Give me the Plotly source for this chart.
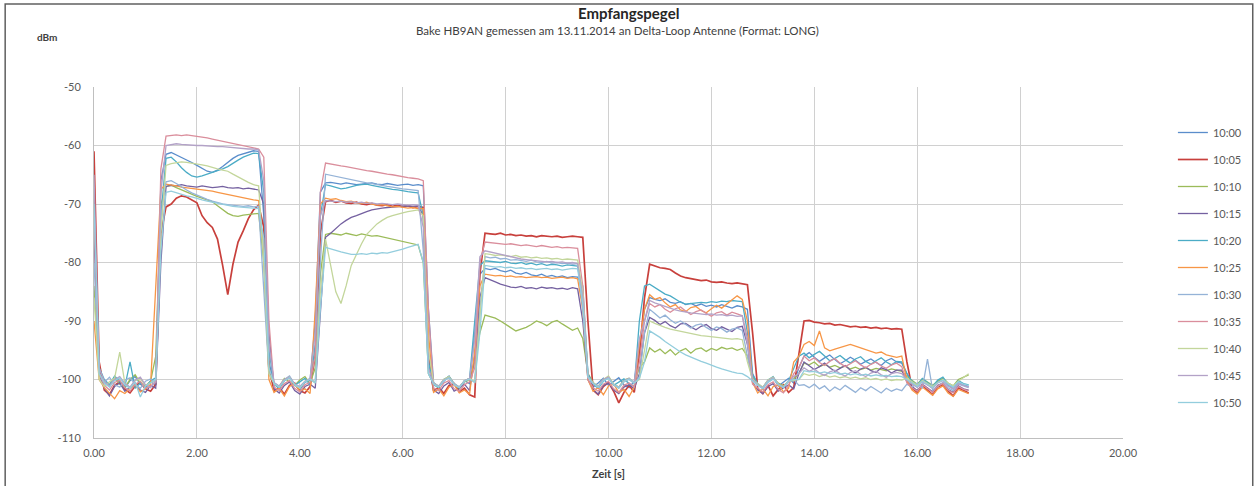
import plotly.graph_objects as go

# ---------------- data (0.1 s sampling, 0.0 .. 17.0 s) ----------------
T_STEP = 0.1
N_SAMPLES = 171
TIME_S = [round(i * T_STEP, 1) for i in range(N_SAMPLES)]

SERIES_NAMES = ["10:00", "10:05", "10:10", "10:15", "10:20", "10:25",
                "10:30", "10:35", "10:40", "10:45", "10:50"]

S_1000 = [-68, -98, -100.5, -101.2, -99.8, -100.6, -101.5, -100.2, -99.5, -100.8, -101.3, -100.4, -100.9,
          -66, -61.5, -61.2, -61.6, -62.0, -62.4, -62.9, -63.4, -63.9, -64.4, -64.6, -64.2, -63.6, -62.9, -62.2, -61.7, -61.4, -61.1, -60.9, -61.0, -72,
          -97, -100.8, -101.5, -100.2, -99.6, -100.9, -101.8, -100.5, -100.1, -90,
          -68, -66.4, -66.3, -66.5, -66.6, -66.4, -66.5, -66.7, -66.6, -66.5, -66.4, -66.6, -66.7, -66.5, -66.6, -66.8, -66.7, -66.6, -66.8, -66.7, -66.9,
          -88, -100.5, -101.2, -100.3, -99.4, -100.8, -101.6, -100.2, -100.7, -92,
          -82, -81.0, -81.2, -81.0, -81.4, -81.6, -81.3, -81.8, -82.0, -81.7, -82.1, -82.3, -82.0, -82.4, -82.2, -82.5, -82.3, -82.6, -82.4, -82.5, -84,
          -99, -101.3, -100.6, -99.8, -101.0, -100.4, -99.7, -100.9, -101.4, -100.3, -95,
          -88, -86.0, -86.3, -86.5, -86.2, -86.8, -87.0, -86.7, -87.2, -87.0, -87.4, -87.1, -87.5, -87.3, -87.6, -87.2, -87.5, -87.8, -87.4, -87.6, -88,
          -99, -100.8, -101.5, -100.2, -99.6, -101.1, -100.4, -99.8, -100.6,
          -98, -96.0, -95.4, -96.2, -96.9, -96.3, -95.8, -96.6, -97.3, -96.8, -96.2, -96.7, -97.4, -96.9, -96.5, -97.1, -97.6, -96.8, -96.4, -97.0, -97.2,
          -99, -100.6, -101.3, -100.1, -100.8, -101.5, -100.4, -99.9, -101.0, -101.6, -100.5, -100.9, -101.2]

S_1005 = [-61, -97, -101.8, -102.6, -101.0, -100.4, -101.7, -102.3, -101.1, -100.5, -101.6, -102.0, -100.8,
          -75, -70.5, -70.0, -69.0, -68.6, -68.8, -69.3, -69.8, -72.0, -73.2, -74.0, -76.0, -80.5, -85.5, -80.3, -76.5, -74.6, -72.5, -71.0, -70.2, -74,
          -98, -102.0, -101.4, -102.5, -101.0, -100.6, -101.9, -102.3, -101.2, -96,
          -75, -69.6, -69.4, -69.7, -69.5, -69.8, -69.9, -69.7, -70.0, -70.1, -69.9, -70.2, -70.3, -70.1, -70.4, -70.2, -70.5, -70.3, -70.6, -70.4, -70.6,
          -96, -102.0, -101.3, -102.4, -101.0, -100.7, -102.1, -101.5, -102.6, -103.0,
          -82, -75.0, -75.1, -75.2, -75.0, -75.3, -75.2, -75.4, -75.3, -75.5, -75.4, -75.6, -75.4, -75.5, -75.6, -75.5, -75.7, -75.6, -75.5, -75.6, -75.7,
          -90, -101.8, -102.6, -101.2, -100.5, -102.0, -104.0, -102.2, -101.0, -102.2, -96,
          -86, -80.3, -80.6, -80.9, -81.0, -81.2, -81.8, -82.3, -82.6, -82.8, -83.0, -83.1, -83.0, -83.3, -83.4, -83.3, -83.5, -83.6, -83.5, -83.7, -83.8,
          -92, -101.5, -102.4, -101.0, -102.8, -101.7, -100.9, -102.2, -101.4,
          -96, -90.0, -89.9, -90.2, -90.3, -90.5, -90.4, -90.7, -90.6, -90.8, -91.0, -90.9, -91.1, -91.0, -91.2, -91.1, -91.3, -91.2, -91.4, -91.3, -91.4,
          -97, -101.5, -102.2, -101.0, -101.8, -102.6, -101.3, -100.9, -102.0, -102.8, -101.4, -101.9, -102.3]

S_1010 = [-84, -99, -100.2, -101.0, -99.6, -100.8, -101.4, -100.0, -99.2, -100.6, -101.1, -100.3, -96,
          -70, -67.0, -66.8, -67.2, -67.6, -68.0, -68.4, -68.7, -69.0, -69.3, -69.6, -70.3, -71.0, -71.6, -72.0, -72.1, -71.9, -71.8, -71.7, -71.6, -80,
          -99, -100.6, -101.2, -99.8, -100.4, -101.0, -100.1, -99.5, -100.7, -98,
          -82, -75.2, -75.0, -75.1, -75.3, -75.0, -75.2, -75.4, -75.1, -75.3, -75.5, -75.4, -75.6, -75.8, -76.0, -76.3, -76.5, -76.7, -76.9, -77.0, -80,
          -99, -100.8, -101.3, -100.0, -99.5, -100.9, -101.6, -100.4, -100.0, -97,
          -92, -89.0, -89.2, -89.5, -90.0, -90.6, -91.2, -91.7, -91.4, -91.1, -90.6, -90.0, -90.3, -90.8, -90.2, -89.9, -90.5, -91.0, -91.6, -91.2, -93,
          -99, -100.5, -101.2, -100.0, -99.6, -100.8, -101.3, -100.1, -99.8, -100.6, -98,
          -97, -94.6, -95.3, -94.8, -95.6, -94.9, -95.8, -95.1, -94.7, -95.5, -94.8, -94.6, -95.2, -94.7, -95.0, -94.5, -94.8, -94.6, -95.0, -94.7, -96,
          -99.5, -100.9, -101.4, -100.2, -99.8, -100.6, -101.1, -100.3, -99.9,
          -99, -97.2, -97.5, -97.0, -97.8, -97.4, -97.9, -97.6, -98.0, -97.7, -98.2, -97.9, -98.3, -98.0, -98.4, -98.1, -98.3, -98.5, -98.2, -98.4, -98.6,
          -99.5, -100.2, -100.8, -99.9, -100.5, -101.0, -100.3, -99.8, -100.6, -101.1, -100.0, -99.6, -99.2]

S_1015 = [-75, -99, -101.5, -102.8, -101.2, -100.6, -102.0, -101.3, -100.9, -101.8, -102.2, -101.0, -101.5,
          -80, -67.0, -66.8, -66.9, -66.7, -66.9, -67.0, -67.1, -66.9, -67.0, -67.2, -67.1, -67.0, -67.2, -67.3, -67.2, -67.4, -67.3, -67.5, -67.6, -70,
          -92, -101.6, -102.3, -101.0, -100.4, -101.9, -102.5, -101.2, -100.8, -101.5,
          -88, -75.7, -75.0, -74.2, -73.4, -72.8, -72.3, -72.0, -71.6, -71.3, -71.0, -70.8, -70.7, -70.6, -70.5, -70.5, -70.4, -70.3, -70.4, -70.3, -72,
          -97, -101.8, -102.4, -101.1, -100.5, -102.0, -101.5, -100.8, -101.9, -96,
          -86, -82.6, -82.9, -83.3, -83.7, -84.0, -84.2, -84.3, -84.1, -84.4, -84.3, -84.5, -84.2, -84.4, -84.3, -84.5, -84.4, -84.6, -84.3, -84.5, -90,
          -100, -101.7, -102.5, -101.0, -100.6, -101.8, -102.4, -101.3, -100.9, -101.6, -99,
          -92, -89.4, -89.9, -90.6, -90.1, -90.8, -91.2, -90.5, -90.4, -91.0, -91.5, -90.9, -90.6, -91.3, -91.6, -91.0, -91.4, -91.8, -91.1, -90.9, -94,
          -100.5, -101.8, -102.4, -101.2, -100.7, -102.0, -101.5, -100.9, -101.6,
          -99, -97.0, -97.6, -98.3, -97.8, -97.2, -98.0, -98.6, -98.1, -97.6, -98.4, -98.9, -98.2, -97.9, -98.5, -98.8, -98.0, -98.3, -98.9, -98.4, -98.4,
          -100.4, -101.2, -101.9, -100.8, -101.5, -102.1, -101.0, -100.6, -101.7, -102.2, -101.1, -101.6, -101.8]

S_1020 = [-70, -98, -100.0, -100.9, -99.4, -100.3, -101.2, -97.0, -101.5, -100.6, -101.4, -100.2, -99.7,
          -72, -62.2, -62.0, -62.8, -63.8, -64.6, -65.2, -65.4, -65.2, -64.9, -64.6, -64.4, -64.0, -63.6, -63.0, -62.5, -62.0, -61.6, -61.3, -61.4, -68,
          -95, -100.8, -101.5, -100.2, -99.6, -101.0, -100.4, -99.8, -100.9, -94,
          -72, -66.7, -66.9, -67.2, -67.4, -67.3, -67.0, -66.8, -66.7, -66.6, -66.8, -67.0, -67.2, -67.4, -67.5, -67.6, -67.8, -67.9, -68.0, -68.1, -72,
          -97, -100.9, -101.4, -100.0, -99.5, -100.7, -101.3, -100.2, -99.8, -90,
          -80.5, -79.7, -79.8, -79.9, -80.0, -79.8, -80.1, -80.2, -80.0, -80.3, -80.1, -80.4, -80.2, -80.5, -80.3, -80.4, -80.6, -80.4, -80.5, -80.6, -86,
          -99, -100.8, -101.5, -100.3, -99.7, -101.0, -100.5, -99.9, -100.7, -101.2, -90,
          -84, -83.7, -84.3, -84.9, -85.4, -85.7, -86.3, -86.8, -87.1, -87.0, -86.9, -86.8, -86.9, -86.7, -86.8, -86.6, -86.7, -86.5, -86.6, -86.7, -92,
          -99.2, -100.7, -101.4, -100.1, -99.5, -100.9, -101.3, -100.2, -98,
          -96, -95.5, -96.3, -95.7, -95.2, -96.0, -96.8, -96.4, -95.9, -96.6, -97.2, -96.5, -96.1, -96.9, -97.4, -96.8, -96.3, -97.0, -97.5, -96.9, -97.0,
          -99.0, -100.3, -101.0, -99.8, -100.5, -101.2, -100.1, -99.6, -100.8, -101.3, -100.2, -100.7, -100.9]

S_1025 = [-90, -100, -101.4, -102.3, -103.3, -101.9, -102.4, -101.5, -100.9, -102.1, -101.6, -100.8, -85,
          -67.5, -66.6, -66.7, -66.9, -67.1, -67.2, -67.4, -67.5, -67.6, -67.7, -67.8, -68.0, -68.2, -68.4, -68.6, -68.8, -68.9, -69.1, -69.3, -69.4, -78,
          -100, -102.2, -101.5, -102.8, -101.2, -100.7, -102.0, -101.6, -102.4, -88,
          -70, -69.0, -69.2, -69.1, -69.4, -69.6, -69.5, -69.8, -69.9, -69.7, -70.0, -70.2, -70.1, -70.3, -70.5, -70.4, -70.6, -70.7, -70.6, -70.8, -70.8,
          -92, -102.2, -101.6, -102.8, -101.3, -100.9, -102.3, -101.8, -102.5, -95,
          -84, -82.0, -82.1, -82.3, -82.2, -82.4, -82.3, -82.5, -82.4, -82.6, -82.5, -82.4, -82.6, -82.5, -82.7, -82.6, -82.5, -82.7, -82.6, -82.8, -88,
          -100, -102.0, -101.4, -102.6, -101.1, -100.8, -102.2, -101.7, -102.9, -101.3, -94,
          -88, -85.5, -86.3, -86.0, -86.9, -87.6, -87.2, -88.1, -88.4, -87.7, -87.5, -88.2, -88.6, -87.9, -87.3, -87.8, -87.1, -86.5, -85.7, -86.3, -90,
          -100.5, -102.3, -101.6, -102.8, -101.2, -100.9, -102.1, -101.5, -97,
          -96, -94.0, -93.5, -94.2, -91.7, -94.6, -95.1, -94.8, -94.5, -94.2, -94.0, -94.3, -94.6, -94.8, -95.2, -95.5, -95.3, -95.8, -96.0, -96.2, -96.0,
          -100.2, -101.8, -102.5, -101.3, -102.0, -102.7, -101.6, -101.1, -102.3, -102.9, -101.7, -102.1, -102.4]

S_1030 = [-80, -99, -100.5, -99.6, -100.9, -101.3, -100.1, -99.7, -100.8, -101.5, -100.3, -99.9, -100.6,
          -72, -66.2, -66.0, -66.5, -67.1, -67.6, -68.1, -68.5, -68.9, -69.2, -69.5, -69.8, -70.0, -70.1, -70.2, -70.3, -70.4, -70.3, -70.5, -70.4, -85,
          -99, -100.6, -101.2, -100.0, -99.4, -100.8, -101.3, -100.4, -99.8, -100.5,
          -80, -64.9, -65.1, -65.3, -65.5, -65.7, -65.9, -66.0, -66.2, -66.4, -66.5, -66.7, -66.8, -67.0, -67.1, -67.3, -67.4, -67.5, -67.6, -67.7, -78,
          -99, -100.7, -101.1, -100.0, -99.6, -100.9, -101.4, -100.3, -99.8, -100.5,
          -88, -79.0, -79.2, -79.1, -79.4, -79.3, -79.6, -79.5, -79.7, -79.8, -79.6, -79.9, -80.0, -79.8, -80.1, -80.0, -80.2, -80.1, -80.3, -80.2, -88,
          -99.5, -100.6, -101.3, -100.1, -99.7, -100.9, -101.5, -100.4, -100.0, -100.7, -99.5,
          -92, -88.0, -88.7, -89.5, -89.0, -89.8, -90.4, -90.0, -90.6, -91.2, -90.7, -90.5, -91.1, -91.6, -91.0, -91.3, -91.9, -91.4, -91.2, -91.6, -96,
          -100.3, -101.0, -101.6, -100.5, -99.9, -100.8, -101.4, -100.2, -100.0,
          -101, -100.9, -101.4, -100.8, -101.6, -101.1, -102.0, -101.3, -101.8, -101.0, -101.6, -102.2, -101.4, -101.9, -101.2, -101.7, -102.3, -101.5, -102.0, -101.6, -101.9,
          -100.8, -101.3, -100.6, -101.5, -96.5, -101.8, -101.2, -100.5, -101.4, -101.9, -100.8, -101.1, -101.4]

S_1035 = [-72, -99, -101.0, -101.8, -100.5, -100.1, -101.4, -102.0, -100.8, -100.3, -101.5, -101.1, -100.4,
          -64, -58.4, -58.3, -58.2, -58.3, -58.2, -58.3, -58.4, -58.5, -58.7, -58.9, -59.1, -59.3, -59.5, -59.7, -59.9, -60.1, -60.3, -60.5, -60.6, -62,
          -90, -101.3, -101.9, -100.7, -100.2, -101.5, -102.1, -100.9, -100.5, -96,
          -68, -63.0, -63.2, -63.3, -63.5, -63.6, -63.8, -64.0, -64.1, -64.3, -64.4, -64.6, -64.7, -64.9, -65.0, -65.2, -65.3, -65.5, -65.6, -65.7, -66.0,
          -88, -101.4, -101.9, -100.6, -100.2, -101.6, -102.0, -100.9, -100.4, -98,
          -80, -76.5, -76.6, -76.7, -76.8, -76.9, -76.8, -77.0, -77.1, -77.0, -77.2, -77.3, -77.1, -77.3, -77.4, -77.3, -77.5, -77.4, -77.5, -77.6, -84,
          -100, -101.4, -102.0, -100.8, -100.3, -101.6, -102.2, -101.0, -100.6, -101.3, -97,
          -90, -87.0, -87.6, -87.2, -88.0, -88.5, -87.9, -87.6, -88.3, -88.9, -88.4, -88.1, -88.7, -89.2, -88.6, -88.4, -89.0, -88.5, -88.8, -89.1, -93,
          -100.8, -101.5, -102.1, -100.9, -100.4, -101.7, -102.3, -101.0, -99,
          -98, -96.0, -96.8, -96.3, -97.1, -97.6, -96.9, -96.4, -97.2, -97.8, -97.3, -96.8, -97.5, -98.0, -97.4, -97.0, -97.7, -98.1, -97.5, -97.2, -97.8,
          -100.6, -101.4, -102.0, -100.9, -101.6, -102.2, -101.1, -100.7, -101.8, -102.3, -101.2, -101.7, -101.9]

S_1040 = [-86, -100, -101.2, -100.4, -99.8, -95.3, -100.6, -101.4, -100.2, -99.9, -101.0, -100.5, -100.1,
          -75, -63.4, -63.1, -62.9, -62.8, -62.9, -63.0, -63.1, -63.3, -63.5, -63.8, -64.0, -64.2, -64.4, -64.9, -65.4, -65.9, -66.3, -66.7, -66.9, -80,
          -99, -100.7, -101.3, -100.1, -99.6, -100.9, -101.5, -100.3, -99.9, -100.6,
          -85, -76.0, -80.5, -85.0, -87.0, -84.0, -80.5, -78.6, -76.8, -75.2, -74.3, -73.4, -72.8, -72.3, -72.0, -71.7, -71.5, -71.3, -71.1, -71.0, -72,
          -95, -100.6, -101.2, -100.0, -99.5, -100.8, -101.3, -100.2, -99.8, -100.4,
          -90, -78.5, -78.6, -78.8, -78.7, -78.9, -79.0, -78.8, -79.1, -79.0, -79.2, -79.1, -79.3, -79.2, -79.4, -79.3, -79.5, -79.4, -79.5, -79.6, -85,
          -99.5, -100.6, -101.2, -100.0, -99.4, -100.8, -101.4, -100.3, -99.9, -100.5, -100.0,
          -95, -90.0, -90.4, -90.8, -91.1, -91.4, -91.6, -91.8, -92.0, -92.2, -92.3, -92.5, -92.6, -92.7, -92.8, -92.9, -93.0, -93.1, -93.0, -93.2, -97,
          -100.0, -100.7, -101.3, -100.1, -99.6, -100.9, -101.2, -100.3, -100.1,
          -100, -99.0, -99.3, -99.1, -99.5, -99.2, -99.6, -99.4, -99.7, -99.5, -99.8, -99.6, -99.9, -99.7, -100.0, -99.8, -100.1, -99.9, -100.2, -100.0, -100.1,
          -99.8, -100.4, -101.0, -100.2, -100.7, -101.2, -100.5, -100.0, -100.6, -101.1, -100.3, -99.7, -99.0]

S_1045 = [-65, -98, -100.3, -101.1, -100.0, -99.5, -100.7, -101.3, -100.1, -99.6, -100.9, -101.4, -100.2,
          -68, -60.0, -59.8, -59.7, -59.8, -59.9, -59.9, -60.0, -60.0, -60.1, -60.1, -60.2, -60.2, -60.3, -60.4, -60.4, -60.5, -60.6, -60.6, -60.7, -66,
          -94, -100.5, -101.1, -100.0, -99.6, -100.8, -101.2, -100.3, -99.9, -92,
          -72, -69.4, -69.5, -69.6, -69.5, -69.7, -69.6, -69.8, -69.7, -69.9, -69.8, -70.0, -69.9, -70.0, -70.1, -70.0, -70.1, -70.2, -70.1, -70.2, -74,
          -98, -100.7, -101.2, -100.1, -99.7, -100.8, -101.3, -100.2, -99.8, -93,
          -79, -78.0, -78.2, -78.5, -78.7, -78.9, -79.1, -79.2, -79.4, -79.5, -79.6, -79.7, -79.8, -79.9, -79.8, -80.0, -79.9, -80.1, -80.0, -80.2, -86,
          -99.5, -100.7, -101.2, -100.0, -99.6, -100.9, -101.3, -100.2, -99.8, -100.6, -93,
          -90, -86.5, -86.9, -87.2, -87.6, -87.9, -88.1, -88.3, -88.5, -88.6, -88.7, -88.8, -88.9, -88.8, -89.0, -88.9, -89.1, -89.0, -89.2, -89.1, -94,
          -100.0, -100.9, -101.4, -100.2, -99.7, -100.8, -101.3, -100.4, -99.5,
          -99, -98.0, -98.6, -98.2, -98.9, -99.3, -98.7, -98.4, -99.0, -99.4, -98.8, -98.5, -99.1, -99.5, -98.9, -98.6, -99.2, -99.6, -99.0, -98.8, -99.0,
          -100.1, -100.8, -101.3, -100.4, -101.0, -101.5, -100.6, -100.2, -101.1, -101.6, -100.7, -101.0, -101.3]

S_1050 = [-70, -99, -100.6, -101.3, -100.2, -99.7, -100.9, -101.5, -100.4, -103.0, -101.1, -100.5, -100.0,
          -78, -68.0, -67.8, -68.1, -68.3, -68.6, -68.8, -69.1, -69.3, -69.5, -69.7, -69.9, -70.1, -70.3, -70.4, -70.5, -70.6, -70.7, -70.7, -70.8, -76,
          -98, -100.7, -101.3, -100.2, -99.7, -100.9, -101.4, -100.4, -100.0, -100.6,
          -88, -77.4, -77.7, -78.0, -78.2, -78.4, -78.6, -78.6, -78.5, -78.6, -78.4, -78.5, -78.3, -78.4, -78.2, -78.0, -77.7, -77.4, -77.1, -76.9, -80,
          -99, -100.8, -101.3, -100.2, -99.7, -100.9, -101.4, -100.3, -99.9, -100.5,
          -92, -80.5, -80.6, -80.8, -80.7, -80.9, -80.8, -81.0, -80.9, -81.1, -81.0, -81.2, -81.1, -81.0, -81.2, -81.1, -81.3, -81.2, -81.0, -81.1, -87,
          -99.6, -100.7, -101.3, -100.2, -99.8, -100.9, -101.4, -100.3, -99.9, -100.6, -99.8,
          -97, -91.7, -92.2, -92.8, -93.5, -94.1, -94.8, -95.3, -95.8, -96.2, -96.6, -96.9, -97.2, -97.6, -97.9, -98.2, -98.5, -98.7, -98.9, -99.0, -99.5,
          -100.2, -101.0, -101.5, -100.4, -99.9, -100.8, -101.4, -100.3, -100.0,
          -100, -98.5, -98.7, -98.6, -98.9, -98.7, -99.0, -98.8, -99.1, -98.9, -99.2, -99.0, -99.3, -99.1, -99.4, -99.2, -99.4, -99.3, -99.5, -99.4, -99.5,
          -100.0, -100.6, -101.2, -100.3, -100.9, -101.4, -100.5, -100.1, -100.8, -101.3, -100.4, -100.8, -101.0]

SERIES_VALUES = [S_1000, S_1005, S_1010, S_1015, S_1020, S_1025,
                 S_1030, S_1035, S_1040, S_1045, S_1050]

X_TICKS = [0, 2, 4, 6, 8, 10, 12, 14, 16, 18, 20]
X_TICK_TEXT = ["0.00", "2.00", "4.00", "6.00", "8.00", "10.00",
               "12.00", "14.00", "16.00", "18.00", "20.00"]
Y_TICKS = [-110, -100, -90, -80, -70, -60, -50]
Y_TICK_TEXT = ["-110", "-100", "-90", "-80", "-70", "-60", "-50"]

# ---------------- styling ----------------
COLORS = ["#5A8DCB", "#C8403C", "#9BBB59", "#7460A0", "#4BACC6", "#F79646",
          "#95B3D7", "#DA8E9C", "#C3D69B", "#B3A2C7", "#93CDDD"]
WIDTHS = [1.3, 1.7, 1.3, 1.3, 1.3, 1.3, 1.3, 1.3, 1.3, 1.3, 1.3]
FONT = "Lato"

for name, vals in zip(SERIES_NAMES, SERIES_VALUES):
    assert len(vals) == N_SAMPLES, (name, len(vals))

fig = go.Figure()
for name, vals, col, w in zip(SERIES_NAMES, SERIES_VALUES, COLORS, WIDTHS):
    fig.add_trace(go.Scatter(x=TIME_S, y=vals, mode="lines", name=name,
                             legendgroup=name,
                             line=dict(color=col, width=w)))

W, H = 1259, 486
L, R, T, B = 94, 134, 87, 48
pw, ph = W - L - R, H - T - B


def px_x(x):
    return (x - L) / pw


def px_y(y):
    return (H - B - y) / ph


fig.update_layout(
    width=W, height=H, autosize=False,
    margin=dict(l=L, r=R, t=T, b=B, pad=0),
    paper_bgcolor="white", plot_bgcolor="white",
    font=dict(family=FONT, size=11, color="#595959"),
    showlegend=True,
    legend=dict(x=px_x(1175), y=px_y(118), xanchor="left", yanchor="top",
                font=dict(family=FONT, size=11, color="#595959"),
                tracegroupgap=8, bgcolor="rgba(0,0,0,0)", borderwidth=0),
    xaxis=dict(range=[0, 20], tickvals=X_TICKS, ticktext=X_TICK_TEXT,
               showgrid=True, gridcolor="#D0D0D0", gridwidth=1,
               showline=True, linecolor="#BFBFBF", linewidth=1,
               zeroline=False, ticks="", ticklen=0, ticklabelstandoff=5,
               tickfont=dict(family=FONT, size=11, color="#595959")),
    yaxis=dict(range=[-110, -50], tickvals=Y_TICKS, ticktext=Y_TICK_TEXT,
               showgrid=True, gridcolor="#D0D0D0", gridwidth=1,
               showline=True, linecolor="#BFBFBF", linewidth=1,
               zeroline=False, ticks="", ticklen=0, ticklabelstandoff=10,
               tickfont=dict(family=FONT, size=11, color="#595959")),
    annotations=[
        dict(text="<b>Empfangspegel</b>", xref="paper", yref="paper",
             x=px_x(630), y=px_y(13), xanchor="center", yanchor="middle",
             showarrow=False, font=dict(family=FONT, size=15, color="#262626")),
        dict(text="Bake HB9AN gemessen am 13.11.2014 an Delta-Loop Antenne (Format: LONG)",
             xref="paper", yref="paper", x=px_x(619), y=px_y(31),
             xanchor="center", yanchor="middle", showarrow=False,
             font=dict(family=FONT, size=11.5, color="#404040")),
        dict(text="<b>dBm</b>", xref="paper", yref="paper",
             x=px_x(47), y=px_y(37), xanchor="center", yanchor="middle",
             showarrow=False, font=dict(family=FONT, size=10, color="#404040")),
        dict(text="<b>Zeit [s]</b>", xref="paper", yref="paper",
             x=px_x(609), y=px_y(473), xanchor="center", yanchor="middle",
             showarrow=False, font=dict(family=FONT, size=11, color="#404040")),
    ],
    shapes=[
        dict(type="rect", xref="paper", yref="paper",
             x0=px_x(5), x1=px_x(1255), y0=px_y(500), y1=px_y(4),
             line=dict(color="#606060", width=1.5), fillcolor="rgba(0,0,0,0)",
             layer="below"),
        dict(type="line", xref="x", yref="y", x0=0, x1=20, y0=-80, y1=-80,
             line=dict(color="#A8A8A8", width=1), layer="below"),
    ],
)

fig.write_html("out.html")
